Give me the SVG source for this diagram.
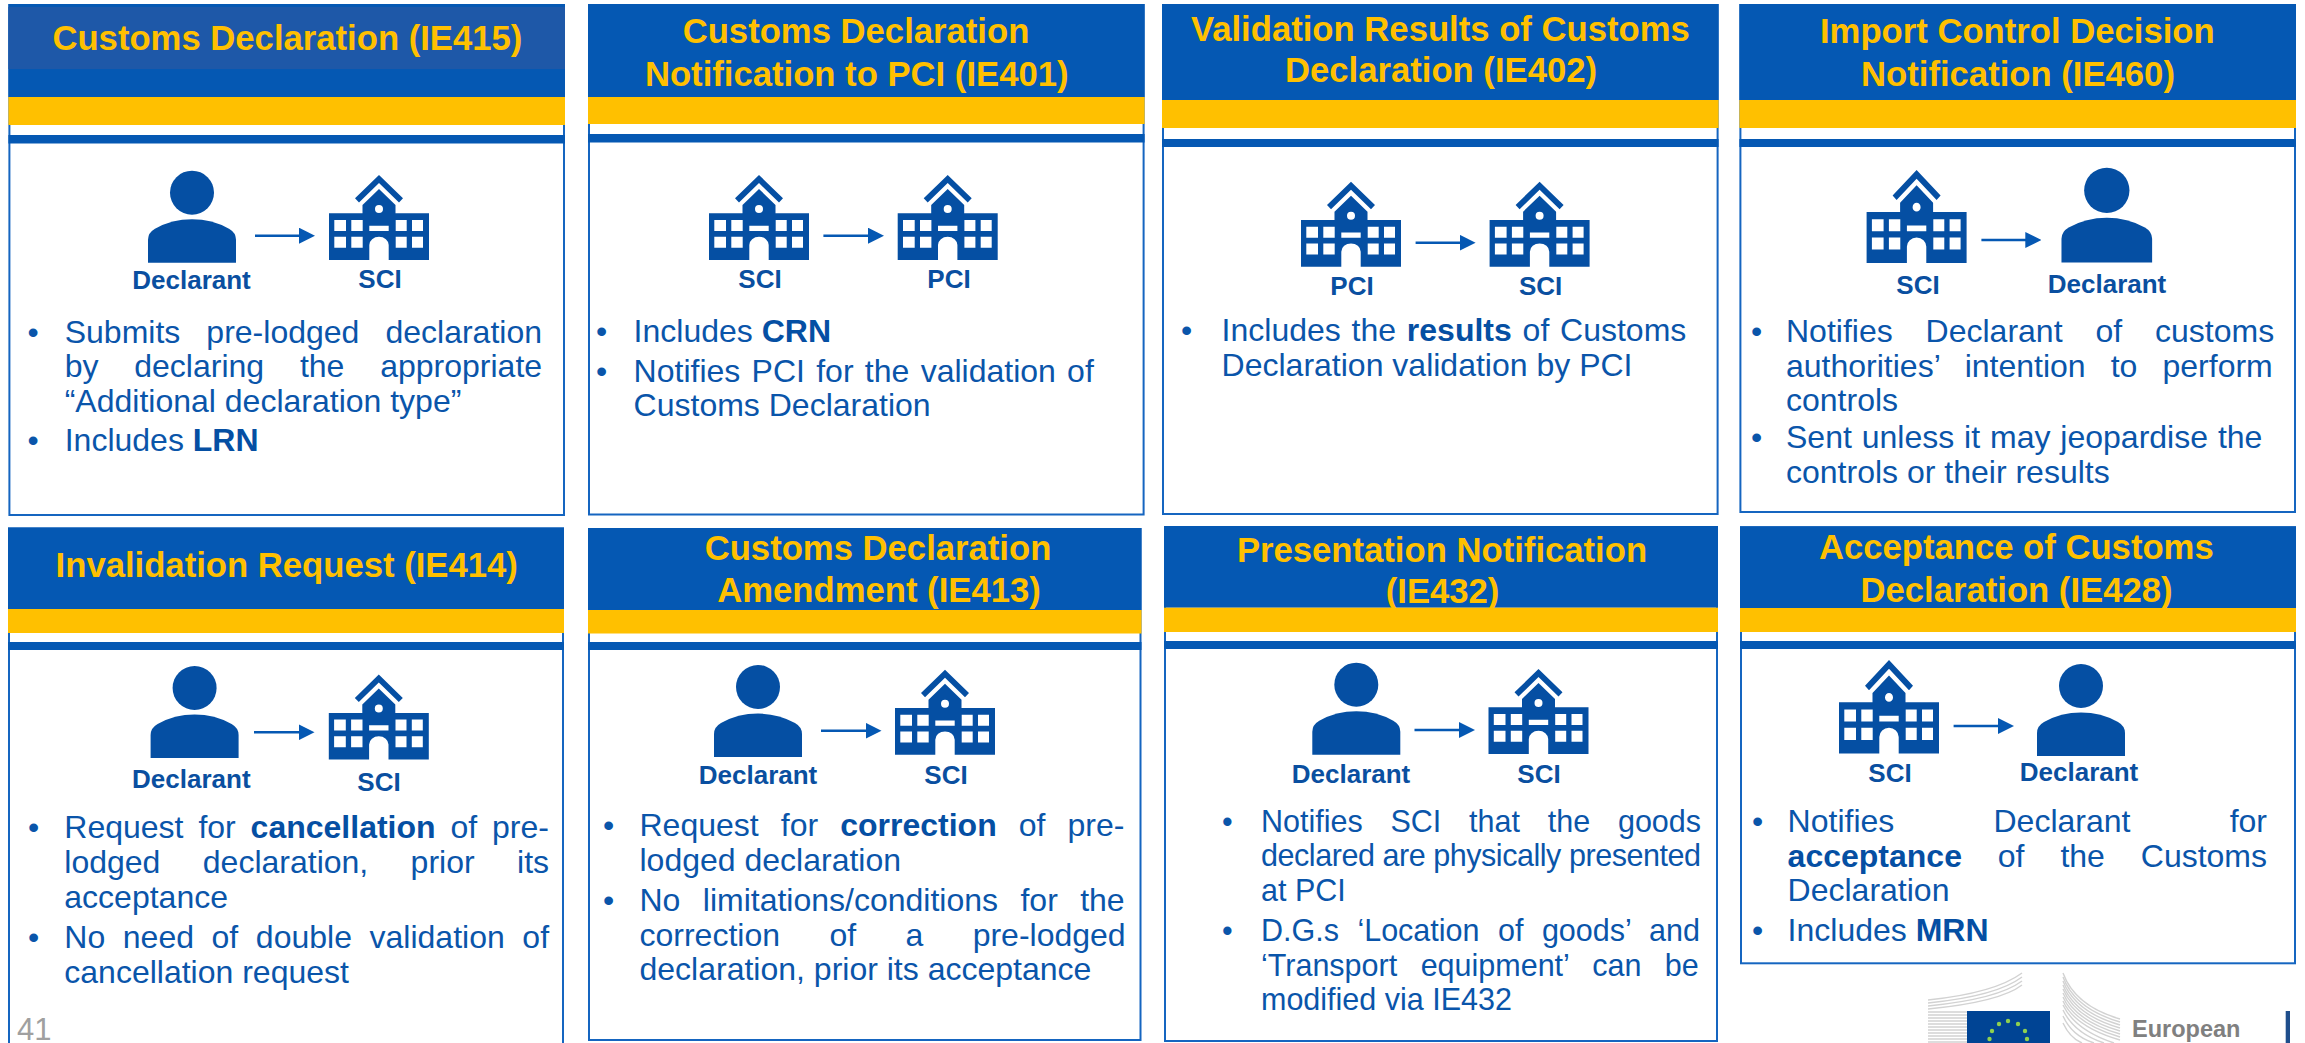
<svg xmlns="http://www.w3.org/2000/svg" width="2305" height="1043" viewBox="0 0 2305 1043">
<style>
text{font-family:"Liberation Sans",Arial,sans-serif}
.box{fill:#fff;stroke:#1565c0;stroke-width:2}
.hd{fill:#0558b3}
.gold{fill:#ffc000}
.band{fill:#0558b3}
.t{font-size:34.67px;font-weight:700;fill:#ffc000;text-anchor:middle}
.l{font-size:26px;font-weight:700;fill:#0a4fa0;text-anchor:middle}
.x{font-size:32px;fill:#0a55aa}
.s{font-size:30.5px;fill:#0a55aa}
.b{font-weight:700;fill:#054fa3}
.c{stroke:#0558b3;stroke-width:2.6;fill:none;marker-end:url(#ah)}
.ic{fill:#054fa3}
</style>
<defs>
<marker id="ah" markerUnits="userSpaceOnUse" markerWidth="16" markerHeight="16" refX="8" refY="8" orient="auto"><path d="M0 0L16 8L0 16Z" fill="#0558b3"/></marker>
<g id="bldg" class="ic">
<path d="M0 0L24 23.3L20 27.5L0 8L-20 27.5L-24 23.3Z"/>
<path fill-rule="evenodd" d="M0 14L16.5 30V38.3H50V85H9.7V70A9.7 8.3 0 0 0 -9.7 70V85H-50V38.3H-16.5V30ZM4 34A4 4 0 1 0 -4 34A4 4 0 1 0 4 34ZM-44.7 45V56H-33V45ZM-27.7 45V56H-16.3V45ZM16.7 45V56H27.7V45ZM33 45V56H44V45ZM-9.7 50.7V56H9.7V50.7ZM-44.7 61.7V72.7H-33V61.7ZM-27.7 61.7V72.7H-16.3V61.7ZM16.7 61.7V72.7H27.7V61.7ZM33 61.7V72.7H44V61.7Z"/>
</g>
<g id="person" class="ic">
<ellipse cx="0" cy="22" rx="22" ry="22"/>
<path d="M-44 92V69Q-44 62 -37 58Q-20 48.6 0 48.6Q20 48.6 37 58Q44 62 44 69V92Z"/>
</g>
</defs>
<rect width="2305" height="1043" fill="#fff"/>

<g id="panel-ie415">
<rect class="box" x="9.4" y="5" width="554.6" height="510"/>
<rect class="hd" x="8.4" y="4" width="556.6" height="93"/>
<rect x="8.4" y="7" width="556.6" height="62" fill="#1e58a8"/>
<text class="t" x="287.4" y="50">Customs Declaration (IE415)</text>
<rect class="gold" x="8.4" y="97" width="556.6" height="28"/>
<rect class="band" x="8.4" y="135" width="556.6" height="8.5"/>
<use href="#person" transform="translate(192,170.7)"/>
<use href="#bldg" transform="translate(379,175)"/>
<text class="l" x="191.5" y="289">Declarant</text>
<text class="l" x="380" y="288">SCI</text>
<text class="x" x="27.5" y="342.5">•</text>
<text class="x" x="64.7" y="342.5" word-spacing="17.2">Submits pre-lodged declaration</text>
<text class="x" x="64.7" y="377" word-spacing="26.9">by declaring the appropriate</text>
<text class="x" x="64.7" y="411.5">“Additional declaration type”</text>
<text class="x" x="27.5" y="451">•</text>
<text class="x" x="64.7" y="451">Includes <tspan class="b">LRN</tspan></text>
</g>

<g id="panel-ie401">
<rect class="box" x="589" y="5" width="554.6" height="509.5"/>
<rect class="hd" x="588" y="4" width="556.6" height="93"/>
<text class="t" x="856" y="43.3">Customs Declaration</text>
<text class="t" x="856.7" y="85.7">Notification to PCI (IE401)</text>
<rect class="gold" x="588" y="97" width="556.6" height="27"/>
<rect class="band" x="588" y="134" width="556.6" height="8.5"/>
<use href="#bldg" transform="translate(759,175)"/>
<use href="#bldg" transform="translate(947.7,175)"/>
<text class="l" x="760" y="288">SCI</text>
<text class="l" x="949" y="288">PCI</text>
<text class="x" x="596" y="342">•</text>
<text class="x" x="633.6" y="342">Includes <tspan class="b">CRN</tspan></text>
<text class="x" x="596" y="382">•</text>
<text class="x" x="633.6" y="382" word-spacing="2.4">Notifies PCI for the validation of</text>
<text class="x" x="633.6" y="416">Customs Declaration</text>
</g>

<g id="panel-ie402">
<rect class="box" x="1163" y="5" width="554.6" height="509"/>
<rect class="hd" x="1162" y="4" width="556.6" height="96"/>
<text class="t" x="1440.4" y="40.7">Validation Results of Customs</text>
<text class="t" x="1441" y="81.7">Declaration (IE402)</text>
<rect class="gold" x="1162" y="100" width="556.6" height="28"/>
<rect class="band" x="1162" y="139" width="556.6" height="8"/>
<use href="#bldg" transform="translate(1351,181.7)"/>
<use href="#bldg" transform="translate(1539.6,181.7)"/>
<text class="l" x="1352" y="295">PCI</text>
<text class="l" x="1540.6" y="295">SCI</text>
<text class="x" x="1181" y="341">•</text>
<text class="x" x="1221.6" y="341" word-spacing="1.9">Includes the <tspan class="b">results</tspan> of Customs</text>
<text class="x" x="1221.6" y="375.5">Declaration validation by PCI</text>
</g>

<g id="panel-ie460">
<rect class="box" x="1740.4" y="5" width="554.6" height="507"/>
<rect class="hd" x="1739.4" y="4" width="556.6" height="96"/>
<text class="t" x="2017.3" y="43.3">Import Control Decision</text>
<text class="t" x="2018" y="85.7">Notification (IE460)</text>
<rect class="gold" x="1739.4" y="100" width="556.6" height="28"/>
<rect class="band" x="1739.4" y="139" width="556.6" height="8"/>
<use href="#bldg" transform="translate(1916.6,170) scale(1,1.094)"/>
<use href="#person" transform="translate(2106.8,167.7) scale(1.03)"/>
<text class="l" x="1918" y="294">SCI</text>
<text class="l" x="2107" y="292.7">Declarant</text>
<text class="x" x="1751" y="342">•</text>
<text class="x" x="1786" y="342" word-spacing="24">Notifies Declarant of customs</text>
<text class="x" x="1786" y="376.5" word-spacing="16.2">authorities’ intention to perform</text>
<text class="x" x="1786" y="411">controls</text>
<text class="x" x="1751" y="448">•</text>
<text class="x" x="1786" y="448" word-spacing="1">Sent unless it may jeopardise the</text>
<text class="x" x="1786" y="483">controls or their results</text>
</g>

<g id="panel-ie414">
<rect class="box" x="9" y="528.5" width="554" height="520"/>
<rect class="hd" x="8" y="527.5" width="556" height="81.5"/>
<text class="t" x="286.7" y="576.7">Invalidation Request (IE414)</text>
<rect class="gold" x="8" y="609" width="556" height="24"/>
<rect class="band" x="8" y="642" width="556" height="8"/>
<use href="#person" transform="translate(194.6,666)"/>
<use href="#bldg" transform="translate(378.8,674.6)"/>
<text class="l" x="191.3" y="788.3">Declarant</text>
<text class="l" x="379" y="790.7">SCI</text>
<text class="x" x="28" y="838.3">•</text>
<text class="x" x="64.3" y="838.3" word-spacing="6">Request for <tspan class="b">cancellation</tspan> of pre-</text>
<text class="x" x="64.3" y="873.3" word-spacing="33.5">lodged declaration, prior its</text>
<text class="x" x="64.3" y="907.7">acceptance</text>
<text class="x" x="28" y="947.7">•</text>
<text class="x" x="64.3" y="947.7" word-spacing="8.7">No need of double validation of</text>
<text class="x" x="64.3" y="982.7">cancellation request</text>
<text x="17" y="1040" font-size="31" fill="#a0a0a0">41</text>
</g>

<g id="panel-ie413">
<rect class="box" x="589" y="529" width="551.5" height="511"/>
<rect class="hd" x="588" y="528" width="553.5" height="82"/>
<text class="t" x="878" y="560">Customs Declaration</text>
<text class="t" x="879" y="601.7">Amendment (IE413)</text>
<rect class="gold" x="588" y="610" width="553.5" height="23.5"/>
<rect class="band" x="588" y="642" width="553.5" height="8"/>
<use href="#person" transform="translate(758,665)"/>
<use href="#bldg" transform="translate(945,669.7)"/>
<text class="l" x="758" y="784.3">Declarant</text>
<text class="l" x="946" y="784.3">SCI</text>
<text class="x" x="603" y="836">•</text>
<text class="x" x="639.5" y="836" word-spacing="13.2">Request for <tspan class="b">correction</tspan> of pre-</text>
<text class="x" x="639.5" y="870.5">lodged declaration</text>
<text class="x" x="603" y="911">•</text>
<text class="x" x="639.5" y="911" word-spacing="13.5">No limitations/conditions for the</text>
<text class="x" x="639.5" y="945.5" word-spacing="40.5">correction of a pre-lodged</text>
<text class="x" x="639.5" y="980">declaration, prior its acceptance</text>
</g>

<g id="panel-ie432">
<rect class="box" x="1165" y="527" width="552" height="514"/>
<rect class="hd" x="1164" y="526" width="554" height="81.7"/>
<text class="t" x="1442" y="561.7">Presentation Notification</text>
<text class="t" x="1442.6" y="602.7">(IE432)</text>
<rect class="gold" x="1164" y="607.7" width="554" height="24.3"/>
<rect class="band" x="1164" y="641" width="554" height="8"/>
<use href="#person" transform="translate(1356.3,662.7)"/>
<use href="#bldg" transform="translate(1538.5,669)"/>
<text class="l" x="1351" y="783.3">Declarant</text>
<text class="l" x="1539" y="783.3">SCI</text>
<text class="s" x="1222" y="831.5">•</text>
<text class="s" x="1261" y="831.5" word-spacing="19.3">Notifies SCI that the goods</text>
<text class="s" x="1261" y="866" textLength="440" lengthAdjust="spacing">declared are physically presented</text>
<text class="s" x="1261" y="900.5">at PCI</text>
<text class="s" x="1222" y="941">•</text>
<text class="s" x="1261" y="941" word-spacing="10">D.G.s ‘Location of goods’ and</text>
<text class="s" x="1261" y="975.5" word-spacing="15">‘Transport equipment’ can be</text>
<text class="s" x="1261" y="1010">modified via IE432</text>
</g>

<g id="panel-ie428">
<rect class="box" x="1741" y="527.3" width="554" height="436"/>
<rect class="hd" x="1740" y="526.3" width="556" height="81.7"/>
<text class="t" x="2016.3" y="559.3">Acceptance of Customs</text>
<text class="t" x="2016.5" y="601.7">Declaration (IE428)</text>
<rect class="gold" x="1740" y="608" width="556" height="24"/>
<rect class="band" x="1740" y="641" width="556" height="8"/>
<use href="#bldg" transform="translate(1889,660) scale(1,1.1)"/>
<use href="#person" transform="translate(2081,664)"/>
<text class="l" x="1890" y="781.7">SCI</text>
<text class="l" x="2079" y="781">Declarant</text>
<text class="x" x="1752" y="832">•</text>
<text class="x" x="1787.6" y="832" word-spacing="90.3">Notifies Declarant for</text>
<text class="x" x="1787.6" y="866.5" word-spacing="27"><tspan class="b">acceptance</tspan> of the Customs</text>
<text class="x" x="1787.6" y="901">Declaration</text>
<text class="x" x="1752" y="941">•</text>
<text class="x" x="1787.6" y="941">Includes <tspan class="b">MRN</tspan></text>
</g>

<g id="connectors">
<line class="c" x1="255" y1="235.7" x2="307" y2="235.7"/>
<line class="c" x1="823.4" y1="235.7" x2="876" y2="235.7"/>
<line class="c" x1="1415.6" y1="242.7" x2="1467.6" y2="242.7"/>
<line class="c" x1="1981.4" y1="240" x2="2033.3" y2="240"/>
<line class="c" x1="254" y1="732.3" x2="306.5" y2="732.3"/>
<line class="c" x1="821" y1="730.7" x2="873.5" y2="730.7"/>
<line class="c" x1="1414.5" y1="730" x2="1467" y2="730"/>
<line class="c" x1="1953.6" y1="726" x2="2006" y2="726"/>
</g>

<g id="logo">
<g fill="none" stroke="#d2d2d2" stroke-width="1.4">
<path d="M1928 1000Q1995 993 2022 973"/>
<path d="M1928 1003Q1997 996 2022 977"/>
<path d="M1928 1006Q1998 999 2022 981"/>
<path d="M1928 1009Q2000 1002 2022 985"/>
<path d="M1928 1012H1967"/><path d="M1928 1015H1967"/><path d="M1928 1018H1967"/><path d="M1928 1021H1967"/><path d="M1928 1024H1967"/><path d="M1928 1027H1967"/><path d="M1928 1030H1967"/><path d="M1928 1033H1967"/><path d="M1928 1036H1967"/><path d="M1928 1039H1967"/><path d="M1928 1042H1967"/>
<path d="M2063 973Q2075 1006 2120 1019"/>
<path d="M2063 977Q2075 1009 2120 1022"/>
<path d="M2063 981Q2075 1012 2120 1025"/>
<path d="M2063 985Q2075 1015 2120 1028"/>
<path d="M2063 989Q2075 1018 2120 1031"/>
<path d="M2063 993Q2075 1021 2120 1034"/>
<path d="M2063 997Q2075 1024 2120 1037"/>
<path d="M2063 1001Q2075 1027 2120 1040"/>
<path d="M2063 1005Q2075 1030 2114 1043"/>
<path d="M2063 1010Q2074 1033 2104 1043"/>
<path d="M2063 1016Q2072 1036 2094 1043"/>
<path d="M2063 1023Q2070 1038 2082 1043"/>
</g>
<rect x="1967" y="1011" width="83" height="32" fill="#004494"/>
<g fill="#8fd14f">
<circle cx="2008" cy="1021" r="2.2"/><circle cx="1999" cy="1024" r="2.2"/><circle cx="2018" cy="1024" r="2.2"/><circle cx="1992" cy="1031" r="2.2"/><circle cx="2025" cy="1031" r="2.2"/><circle cx="1989.5" cy="1039" r="2.2"/><circle cx="2027" cy="1039" r="2.2"/>
</g>
<text x="2132" y="1037" font-size="23.5" font-weight="700" fill="#808080">European</text>
<rect x="2285.7" y="1011" width="4.3" height="32" fill="#1f4e8c"/>
</g>
</svg>
